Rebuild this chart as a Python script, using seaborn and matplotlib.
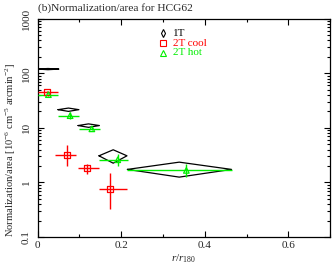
import numpy as np
import pandas as pd
import matplotlib
matplotlib.use("Agg")
import matplotlib.pyplot as plt
import seaborn as sns

# ---- data ----
# 1T (diamonds: x error and y error drawn as diamond outline)
t1_x = [0.025, 0.074, 0.122, 0.181, 0.339]
t1_xlo = [0.024, 0.025, 0.025, 0.034, 0.124]
t1_xhi = [0.026, 0.025, 0.026, 0.033, 0.125]
t1_y = [119.0, 21.5, 11.0, 3.07, 1.73]
t1_ylo = [3.0, 1.5, 0.8, 0.82, 0.48]
t1_yhi = [3.0, 1.5, 0.8, 0.89, 0.62]

# 2T cool
c_x = [0.0235, 0.070, 0.118, 0.174]
c_xlo = [0.0235, 0.029, 0.020, 0.026]
c_xhi = [0.0265, 0.023, 0.030, 0.041]
c_y = [44.6, 3.21, 1.82, 0.767]
c_ylo = [2.0, 1.22, 0.38, 0.44]
c_yhi = [2.0, 1.73, 0.38, 0.75]

# 2T hot
h_x = [0.026, 0.078, 0.130, 0.192, 0.356]
h_xlo = [0.026, 0.029, 0.031, 0.045, 0.141]
h_xhi = [0.024, 0.021, 0.020, 0.025, 0.108]
h_y = [40.5, 16.7, 9.57, 2.60, 1.66]
h_ylo = [1.5, 2.1, 0.6, 0.64, 0.41]
h_yhi = [1.5, 2.5, 0.6, 0.74, 0.54]

series_labels = ["1T", "2T cool", "2T hot"]
x_ticks = [0, 0.2, 0.4, 0.6]
x_ticklabels = ["0", "0.2", "0.4", "0.6"]
y_ticks = [0.1, 1, 10, 100, 1000]
y_ticklabels = ["0.1", "1", "10", "100", "1000"]

RED = "#ff0000"
GREEN = "#00ee00"

sns.set_style("ticks")
plt.rcParams["font.family"] = ["Liberation Serif", "DejaVu Serif"]
plt.rcParams["mathtext.fontset"] = "custom"
plt.rcParams["mathtext.rm"] = "Liberation Serif"
plt.rcParams["mathtext.it"] = "Liberation Serif:italic"

fig = plt.figure(figsize=(3.32, 2.66), dpi=100)
ax = fig.add_axes([0.113, 0.109, 0.8815, 0.821])

# 1T diamonds
for x, xl, xh, y, yl, yh in zip(t1_x, t1_xlo, t1_xhi, t1_y, t1_ylo, t1_yhi):
    ax.plot([x - xl, x, x + xh, x, x - xl], [y, y + yh, y, y - yl, y],
            color="black", lw=0.9, zorder=3)

# 2T cool
ax.errorbar(c_x, c_y, xerr=[c_xlo, c_xhi], yerr=[c_ylo, c_yhi], fmt="none",
            ecolor=RED, elinewidth=1.0, capsize=0, zorder=4)
df_c = pd.DataFrame({"x": c_x, "y": c_y})
sns.scatterplot(data=df_c, x="x", y="y", ax=ax, marker="s", s=20,
                facecolor="none", edgecolor=RED, linewidth=0.9, zorder=5)

# 2T hot
ax.errorbar(h_x, h_y, xerr=[h_xlo, h_xhi], yerr=[h_ylo, h_yhi], fmt="none",
            ecolor=GREEN, elinewidth=1.0, capsize=0, zorder=4)
df_h = pd.DataFrame({"x": h_x, "y": h_y})
sns.scatterplot(data=df_h, x="x", y="y", ax=ax, marker="^", s=16,
                facecolor="none", edgecolor=GREEN, linewidth=0.9, zorder=5)

ax.set_yscale("log")
ax.set_xlim(0, 0.7)
ax.set_ylim(0.1, 1000)
ax.set_xticks(x_ticks)
ax.set_xticklabels(x_ticklabels)
ax.set_xticks([0.1, 0.3, 0.5, 0.7], minor=True)
ax.set_yticks(y_ticks)
ax.set_yticklabels(y_ticklabels, rotation=90, va="center")
ax.tick_params(which="both", direction="in", top=True, right=True,
               labelsize=8, color="black", width=0.8)
ax.tick_params(axis="y", pad=5)
ax.tick_params(axis="x", pad=3)
ax.tick_params(which="major", length=4)
ax.tick_params(which="minor", length=2)
for s in ax.spines.values():
    s.set_linewidth(0.9)
    s.set_color("black")

ax.set_xlabel(r"$\mathit{r}/\mathit{r}_{180}$", fontsize=8, labelpad=2)
ax.set_ylabel(r"Normalization/area [10$^{-6}$ cm$^{-5}$ arcmin$^{-2}$]", fontsize=7.6)
ax.yaxis.set_label_coords(-0.068, 0.40)
ax.text(0.0, 1.025, "(b)Normalization/area for HCG62", transform=ax.transAxes,
        fontsize=8.2, ha="left", va="bottom")

# legend (drawn manually in axes coordinates)
leg_markers = ["d", "s", "^"]
leg_colors = ["black", RED, GREEN]
for i, (lab, mk, col) in enumerate(zip(series_labels, leg_markers, leg_colors)):
    yy = 0.932 - i * 0.044
    ax.plot([0.43], [yy], transform=ax.transAxes, ls="none", marker=mk,
            markerfacecolor="none", markeredgecolor=col, ms=4, mew=0.8,
            clip_on=False, zorder=6)
    ax.text(0.462, yy, lab, transform=ax.transAxes, color=col, fontsize=8,
            ha="left", va="center")

fig.savefig("out.png", dpi=100)
